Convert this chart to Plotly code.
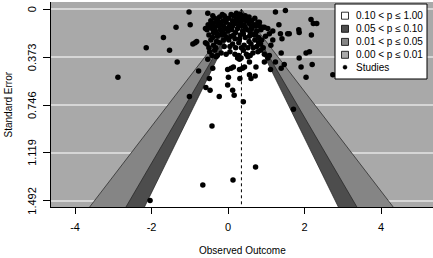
import plotly.graph_objects as go

# ---------------- data ----------------
estimate = 0.35                      # pooled estimate / reference line
z_levels = [2.576, 1.960, 1.645]      # contour boundaries (p = 0.01, 0.05, 0.10)
se_ticks = [0, 0.373, 0.746, 1.119, 1.492]
x_ticks = [-4, -2, 0, 2, 4]
legend_labels = ["0.10 < p \u2264 1.00", "0.05 < p \u2264 0.10",
                 "0.01 < p \u2264 0.05", "0.00 < p \u2264 0.01", "Studies"]

# (observed outcome, standard error) for each study
study_points = [
    (-2.14, 0.30), (-2.88, 0.53), (-2.04, 1.49), (-0.42, 0.91), (-0.66, 1.37), (0.13, 1.33), (0.72, 1.23),
    (-1.02, 0.02), (-0.53, 0.03), (-1.36, 0.14), (-0.99, 0.12), (-1.69, 0.22), (-1.53, 0.32), (-1.33, 0.41),
    (-0.86, 0.26), (-0.92, 0.27), (-0.82, 0.25), (-0.59, 0.26), (-0.59, 0.15),
    (1.24, 0.02), (1.50, 0.01), (2.17, 0.08), (2.23, 0.11), (2.32, 0.11), (1.85, 0.16), (1.86, 0.18), (2.18, 0.20),
    (1.33, 0.12), (1.56, 0.19), (1.60, 0.19), (1.37, 0.19), (1.41, 0.23), (1.04, 0.15), (1.08, 0.19), (1.17, 0.17),
    (0.82, 0.10), (0.95, 0.14), (1.17, 0.24), (1.12, 0.28), (1.39, 0.34), (2.04, 0.34), (2.13, 0.33), (1.86, 0.38),
    (1.08, 0.36), (1.04, 0.38), (1.91, 0.45), (2.20, 0.43), (2.04, 0.53), (1.47, 0.43), (1.39, 0.46), (1.24, 0.41),
    (1.11, 0.47), (0.95, 0.41), (0.73, 0.45), (0.56, 0.51), (0.60, 0.54), (0.71, 0.52), (0.31, 0.54), (0.38, 0.46),
    (0.43, 0.45), (0.30, 0.47), (0.25, 0.38), (0.52, 0.37), (0.56, 0.41), (0.40, 0.72), (1.71, 0.78),
    (-0.77, 0.48), (-0.49, 0.54), (-0.58, 0.61), (-0.47, 0.63), (-0.23, 0.68), (-1.01, 0.68), (-0.40, 0.46),
    (-0.53, 0.39), (-0.31, 0.37), (-0.01, 0.47), (0.08, 0.46), (0.14, 0.45), (-0.01, 0.59), (0.12, 0.63),
    (0.16, 0.67), (0.30, 0.39), (2.74, 0.51), (0.34, 0.38), (0.01, 0.53), (-0.39, 0.12),
    # dense cluster near the apex
    (-0.35, 0.07), (-0.22, 0.06), (-0.10, 0.05), (0.02, 0.07), (0.15, 0.05), (0.28, 0.06), (0.40, 0.07),
    (0.52, 0.08), (-0.45, 0.09), (0.62, 0.09), (0.08, 0.04), (0.33, 0.04), (-0.28, 0.08), (0.45, 0.05),
    (-0.52, 0.12), (-0.40, 0.11), (-0.30, 0.10), (-0.18, 0.12), (-0.05, 0.10), (0.05, 0.12), (0.18, 0.11),
    (0.30, 0.10), (0.42, 0.12), (0.55, 0.11), (0.68, 0.12), (0.78, 0.10), (-0.12, 0.09), (0.22, 0.08),
    (0.48, 0.09), (0.72, 0.13), (-0.48, 0.14), (0.12, 0.13), (0.36, 0.13), (-0.25, 0.13),
    (-0.55, 0.16), (-0.42, 0.15), (-0.33, 0.17), (-0.20, 0.16), (-0.08, 0.15), (0.00, 0.17), (0.10, 0.16),
    (0.25, 0.15), (0.38, 0.17), (0.50, 0.16), (0.62, 0.15), (0.75, 0.17), (0.86, 0.16), (-0.15, 0.18),
    (0.20, 0.18), (0.58, 0.18), (0.90, 0.14), (-0.38, 0.18),
    (-0.50, 0.20), (-0.40, 0.22), (-0.28, 0.21), (-0.16, 0.20), (-0.04, 0.22), (0.08, 0.21), (0.18, 0.23),
    (0.32, 0.20), (0.45, 0.22), (0.56, 0.21), (0.68, 0.20), (0.80, 0.22), (0.88, 0.24), (-0.45, 0.24),
    (0.70, 0.24), (0.02, 0.24), (-0.30, 0.25),
    (-0.55, 0.27), (-0.38, 0.28), (-0.22, 0.26), (-0.10, 0.29), (0.12, 0.27), (0.28, 0.26), (0.42, 0.28),
    (0.60, 0.27), (0.75, 0.29), (0.85, 0.27), (-0.50, 0.30), (0.52, 0.30), (0.92, 0.30), (0.20, 0.30),
    (-0.48, 0.33), (-0.35, 0.32), (-0.18, 0.34), (0.05, 0.33), (0.18, 0.35), (0.40, 0.32), (0.65, 0.34),
    (0.78, 0.33), (0.95, 0.35), (-0.42, 0.36), (0.58, 0.36), (0.28, 0.36),
    (-0.15, 0.04), (0.22, 0.03), (0.55, 0.06), (-0.40, 0.05), (0.70, 0.07), (-0.05, 0.07), (0.12, 0.09),
    (0.35, 0.09), (-0.22, 0.10), (0.60, 0.13), (-0.35, 0.14), (0.02, 0.14), (0.28, 0.13), (0.82, 0.13),
    (-0.12, 0.13), (0.45, 0.14), (-0.28, 0.19), (0.15, 0.20), (0.40, 0.19), (0.72, 0.19), (-0.10, 0.19),
    (0.98, 0.21), (0.30, 0.23), (0.55, 0.25), (-0.12, 0.24), (0.80, 0.26), (-0.32, 0.30), (0.05, 0.29),
    (0.66, 0.30), (0.35, 0.30), (-0.05, 0.35), (0.85, 0.32), (-0.28, 0.36), (0.48, 0.35),
]
effect = [p[0] for p in study_points]
sei = [p[1] for p in study_points]

# ---------------- style ----------------
W, H = 433, 258
ML, MR, MT, MB = 51, 0, 2, 51
BG = "#a9a9a9"
C_MED = "#858585"
C_DARK = "#4d4d4d"
C_WHITE = "#ffffff"
FONT = "Liberation Sans, Arial, sans-serif"
x_range = [-4.63, 5.36]
y_range = [1.541, -0.057]
se_base = 1.8   # extend contours beyond the plotting region (clipped)

fig = go.Figure()

for z, col in zip(z_levels, [C_MED, C_DARK, C_WHITE]):
    fig.add_trace(go.Scatter(
        x=[estimate - z * se_base, estimate, estimate + z * se_base, estimate - z * se_base],
        y=[se_base, 0, se_base, se_base],
        mode="lines", fill="toself", fillcolor=col,
        line=dict(color="#202020", width=0.7),
        hoverinfo="skip", showlegend=False))

fig.add_trace(go.Scatter(
    x=[estimate, estimate], y=[0, se_base], mode="lines",
    line=dict(color="black", width=1, dash="dot"),
    hoverinfo="skip", showlegend=False))

fig.add_trace(go.Scatter(
    x=effect, y=sei, mode="markers",
    marker=dict(color="black", size=5.5, line=dict(width=0)),
    showlegend=False, name="Studies"))

# ---------------- manual legend / labels (pixel positions -> paper) ----------------
pw = W - ML - MR
ph = H - MT - MB


def px(xp):
    return (xp - ML) / pw


def py(yp):
    return (H - MB - yp) / ph


shapes = []
annotations = []
shapes.append(dict(type="rect", xref="paper", yref="paper",
                   x0=px(335), x1=px(427), y0=py(4), y1=py(79),
                   fillcolor="white", line=dict(color="black", width=1), layer="above"))
rows = [15.7, 28.8, 41.9, 54.8, 67.2]
sw_cols = [C_WHITE, C_DARK, C_MED, BG]
for i, lab in enumerate(legend_labels):
    yc = rows[i]
    if i < 4:
        shapes.append(dict(type="rect", xref="paper", yref="paper",
                           x0=px(341.5), x1=px(348.5), y0=py(yc - 3.5), y1=py(yc + 3.5),
                           fillcolor=sw_cols[i], line=dict(color="black", width=0.8), layer="above"))
    else:
        shapes.append(dict(type="circle", xref="paper", yref="paper",
                           x0=px(343), x1=px(347), y0=py(yc - 2), y1=py(yc + 2),
                           fillcolor="black", line=dict(color="black", width=0.5), layer="above"))
    annotations.append(dict(xref="paper", yref="paper", x=px(354), y=py(yc),
                            xanchor="left", yanchor="middle", text=lab, showarrow=False,
                            font=dict(family=FONT, size=10, color="black")))

# rotated y tick labels placed next to the axis
for v in se_ticks:
    annotations.append(dict(xref="paper", yref="y", x=px(32), y=v, text=f"{v:g}",
                            textangle=-90, xanchor="center", yanchor="middle", showarrow=False,
                            font=dict(family=FONT, size=11, color="black")))
# axis titles
annotations.append(dict(xref="paper", yref="paper", x=px(8), y=0.5, text="Standard Error",
                        textangle=-90, xanchor="center", yanchor="middle", showarrow=False,
                        font=dict(family=FONT, size=10, color="black")))
annotations.append(dict(xref="paper", yref="paper", x=0.5, y=py(250), text="Observed Outcome",
                        xanchor="center", yanchor="middle", showarrow=False,
                        font=dict(family=FONT, size=10, color="black")))

fig.update_layout(
    width=W, height=H,
    margin=dict(l=ML, r=MR, t=MT, b=MB, pad=0),
    paper_bgcolor="white", plot_bgcolor=BG,
    font=dict(family=FONT, size=11, color="black"),
    shapes=shapes, annotations=annotations,
    showlegend=False,
)
fig.update_xaxes(
    range=x_range, tickmode="array", tickvals=x_ticks, ticktext=[str(v) for v in x_ticks],
    showgrid=False, zeroline=False, showline=True, linecolor="black", linewidth=1.2,
    ticks="outside", ticklen=6, tickcolor="black", tickwidth=1,
    tickfont=dict(family=FONT, size=11), ticklabelstandoff=4,
    automargin=False,
)
fig.update_yaxes(
    range=y_range, tickmode="array", tickvals=se_ticks, showticklabels=False,
    showgrid=True, gridcolor="#d6d6d6", gridwidth=1.5, zeroline=False,
    showline=True, linecolor="black", linewidth=1.2,
    ticks="outside", ticklen=7, tickcolor="black", tickwidth=1,
    automargin=False,
)

fig.write_html("out.html", config={"displayModeBar": False},
               post_script="document.body.style.margin='0';")
